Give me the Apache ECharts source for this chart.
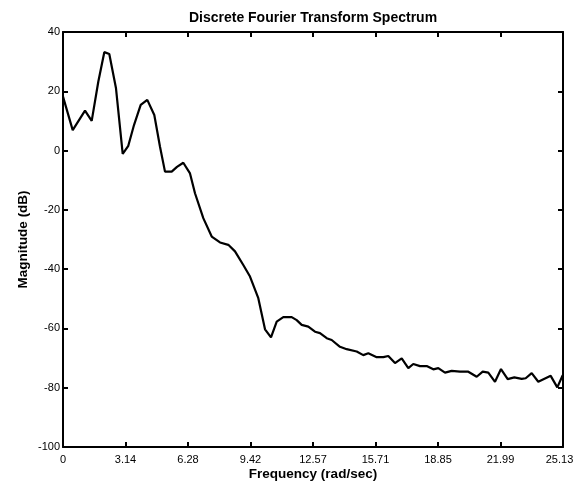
<!DOCTYPE html>
<html>
<head>
<meta charset="utf-8">
<script src="https://cdn.jsdelivr.net/npm/echarts@6/dist/echarts.min.js"></script>
<style>
html,body{margin:0;padding:0;background:#fff;}
#chart{width:577px;height:483px;}
</style>
</head>
<body>
<div id="chart"></div>
<script>
// Data
const titleText = 'Discrete Fourier Transform Spectrum';
const xTitle = 'Frequency (rad/sec)';
const yTitle = 'Magnitude (dB)';
const xTickValues = [0, 3.1416, 6.2832, 9.4248, 12.5664, 15.7080, 18.8496, 21.9911, 25.1327];
const xTickLabels = ['0', '3.14', '6.28', '9.42', '12.57', '15.71', '18.85', '21.99', '25.13'];
const freq = [0, 0.488, 1.106, 1.443, 1.774, 2.076, 2.327, 2.664, 3.001, 3.282, 3.569, 3.906, 4.237, 4.589, 4.876,
  5.127, 5.464, 5.730, 6.047, 6.384, 6.635, 7.052, 7.475, 7.892, 8.309, 8.646, 9.063, 9.400, 9.817, 10.154,
  10.455, 10.742, 11.073, 11.496, 11.747, 11.998, 12.330, 12.667, 12.918, 13.255, 13.506, 13.923, 14.260,
  14.763, 15.095, 15.346, 15.768, 16.100, 16.351, 16.688, 17.025, 17.357, 17.608, 17.945, 18.281, 18.613,
  18.864, 19.201, 19.538, 19.955, 20.373, 20.795, 21.097, 21.378, 21.715, 22.016, 22.353, 22.685, 23.057,
  23.258, 23.559, 23.891, 24.514, 24.846, 25.118];
const mag = [18.2, 6.9, 13.5, 10.0, 23.2, 33.2, 32.6, 21.0, -1.1, 1.6, 8.6, 15.4, 17.1, 12.0, 1.3,
  -7.1, -7.1, -5.5, -4.1, -7.7, -14.4, -22.8, -29.0, -31.0, -31.8, -34.0, -38.6, -42.5, -49.8, -60.3,
  -63.0, -57.7, -56.2, -56.2, -57.2, -58.8, -59.4, -61.1, -61.6, -63.3, -63.9, -66.2, -67.0,
  -67.8, -69.0, -68.4, -69.7, -69.7, -69.3, -71.7, -70.1, -73.4, -72.0, -72.7, -72.7, -73.8,
  -73.4, -74.9, -74.3, -74.6, -74.6, -76.3, -74.6, -74.9, -78.0, -73.7, -77.1, -76.5, -77.0,
  -76.8, -75.1, -78.0, -76.0, -79.9, -75.8];

const xMin = 0, xMax = 8 * Math.PI, xStep = Math.PI;
const yMin = -100, yMax = 40, yStep = 20;

function fmtX(v) {
  let best = 0, bd = Infinity;
  xTickValues.forEach((t, i) => { const d = Math.abs(t - v); if (d < bd) { bd = d; best = i; } });
  const s = xTickLabels[best];
  return best === xTickLabels.length - 1 ? '{last|' + s + '}' : s;
}

const font = 'Liberation Sans, Arial, sans-serif';
const lineStyle = { color: '#000', width: 2 };
const chart = echarts.init(document.getElementById('chart'), null, { renderer: 'canvas' });
chart.setOption({
  animation: false,
  backgroundColor: '#fff',
  grid: { left: 63, right: 14, top: 32, bottom: 36, containLabel: false, outerBoundsMode: 'none' },
  xAxis: [
    {
      type: 'value', position: 'bottom', min: xMin, max: xMax, interval: xStep,
      name: xTitle, nameLocation: 'middle', nameGap: 20, nameMoveOverlap: false,
      nameTextStyle: { fontFamily: font, fontWeight: 'bold', fontSize: 13.5, color: '#000' },
      axisLine: { show: true, onZero: false, lineStyle },
      axisTick: { show: true, inside: true, length: 5, lineStyle },
      axisLabel: { formatter: fmtX, fontFamily: font, fontSize: 11, color: '#000', margin: 7,
        showMaxLabel: true, showMinLabel: true,
        rich: { last: { fontFamily: font, fontSize: 11, color: '#000', padding: [0, 7, 0, 0] } } },
      splitLine: { show: false }
    },
    {
      type: 'value', position: 'top', min: xMin, max: xMax, interval: xStep,
      name: titleText, nameLocation: 'middle', nameGap: 7, nameMoveOverlap: false,
      nameTextStyle: { fontFamily: font, fontWeight: 'bold', fontSize: 14, color: '#000' },
      axisLine: { show: true, onZero: false, lineStyle },
      axisTick: { show: true, inside: true, length: 5, lineStyle },
      axisLabel: { show: false },
      splitLine: { show: false }
    }
  ],
  yAxis: [
    {
      type: 'value', position: 'left', min: yMin, max: yMax, interval: yStep,
      name: yTitle, nameLocation: 'middle', nameGap: 33, nameMoveOverlap: false,
      nameTextStyle: { fontFamily: font, fontWeight: 'bold', fontSize: 13.5, color: '#000' },
      axisLine: { show: true, onZero: false, lineStyle },
      axisTick: { show: true, inside: true, length: 5, lineStyle },
      axisLabel: { fontFamily: font, fontSize: 11, color: '#000', margin: 3 },
      splitLine: { show: false }
    },
    {
      type: 'value', position: 'right', min: yMin, max: yMax, interval: yStep,
      axisLine: { show: true, onZero: false, lineStyle },
      axisTick: { show: true, inside: true, length: 5, lineStyle },
      axisLabel: { show: false },
      splitLine: { show: false }
    }
  ],
  series: [{
    type: 'line',
    xAxisIndex: 0, yAxisIndex: 0,
    data: freq.map((f, i) => [f, mag[i]]),
    showSymbol: false,
    symbol: 'none',
    lineStyle: { color: '#000', width: 2.2 },
    clip: true
  }]
});
</script>
</body>
</html>
